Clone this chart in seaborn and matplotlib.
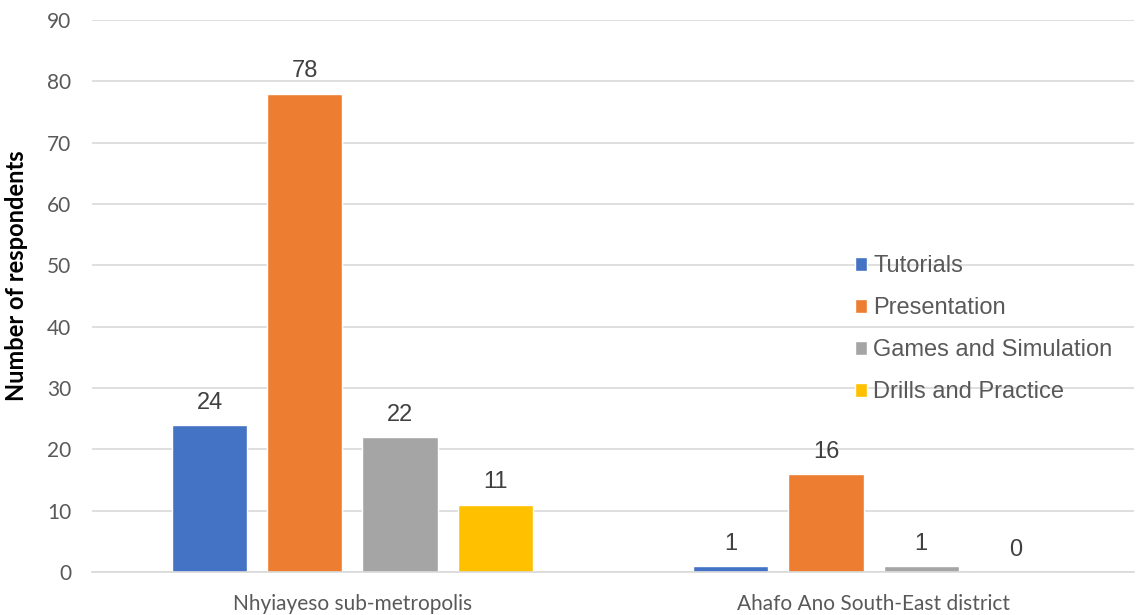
import matplotlib
matplotlib.use("Agg")
import matplotlib.pyplot as plt
import seaborn as sns
import pandas as pd

categories = ["Nhyiayeso sub-metropolis", "Ahafo Ano South-East district"]
series_names = ["Tutorials", "Presentation", "Games and Simulation", "Drills and Practice"]
tutorials = [24, 1]
presentation = [78, 16]
games = [22, 1]
drills = [11, 0]
colors = ["#4472C4", "#ED7D31", "#A5A5A5", "#FFC000"]

rows = []
for name, vals in zip(series_names, [tutorials, presentation, games, drills]):
    for c, v in zip(categories, vals):
        rows.append({"District": c, "Method": name, "Count": v})
df = pd.DataFrame(rows)

sns.set_theme(style="white")
plt.rcParams["font.family"] = ["Liberation Sans", "DejaVu Sans"]

fig = plt.figure(figsize=(11.41, 6.15), dpi=100)
ax = fig.add_axes([0.0806, 0.0699, 0.9133, 0.8976])

sns.barplot(data=df, x="District", y="Count", hue="Method", order=categories,
            hue_order=series_names, palette=colors, width=0.73, gap=0.21,
            saturation=1, ax=ax, legend=True, errorbar=None)

for cont in ax.containers:
    ax.bar_label(cont, fmt="%g", padding=8, fontsize=17, color="#404040",
                 family="Liberation Sans")

ax.set_xlim(-0.5, 1.5)
ax.set_ylim(0, 90)
ax.set_yticks(range(0, 91, 10))
ax.yaxis.grid(True, color="#D9D9D9", linewidth=1.2)
ax.set_axisbelow(True)
for s in ["top", "right", "left"]:
    ax.spines[s].set_visible(False)
ax.spines["bottom"].set_color("#D9D9D9")
ax.spines["bottom"].set_linewidth(1.2)

ax.set_xticks([-0.5, 0.5, 1.5], minor=True)
ax.tick_params(axis="x", which="minor", length=7, color="#D9D9D9", width=1.2, direction="out")
ax.tick_params(axis="x", which="major", length=0, pad=16, labelsize=15, labelcolor="#595959")
ax.tick_params(axis="y", length=0, pad=15, labelsize=15, labelcolor="#595959")
for lab in ax.get_xticklabels() + ax.get_yticklabels():
    lab.set_family(["Lato", "DejaVu Sans"])

ax.set_xlabel("")
ax.set_ylabel("Number of respondents", fontsize=17, fontweight="bold",
              family=["Lato", "DejaVu Sans"], color="black")
ax.yaxis.set_label_coords(-0.061, 0.536)

handles, labels = ax.get_legend_handles_labels()
leg = ax.legend(handles, labels, loc="upper left", bbox_to_anchor=(0.7235, 0.591),
                frameon=False, fontsize=17, handlelength=0.5, handleheight=0.5,
                handletextpad=0.25, labelspacing=0.85, borderaxespad=0)
for t in leg.get_texts():
    t.set_color("#595959")

fig.savefig("out.png", dpi=100)
